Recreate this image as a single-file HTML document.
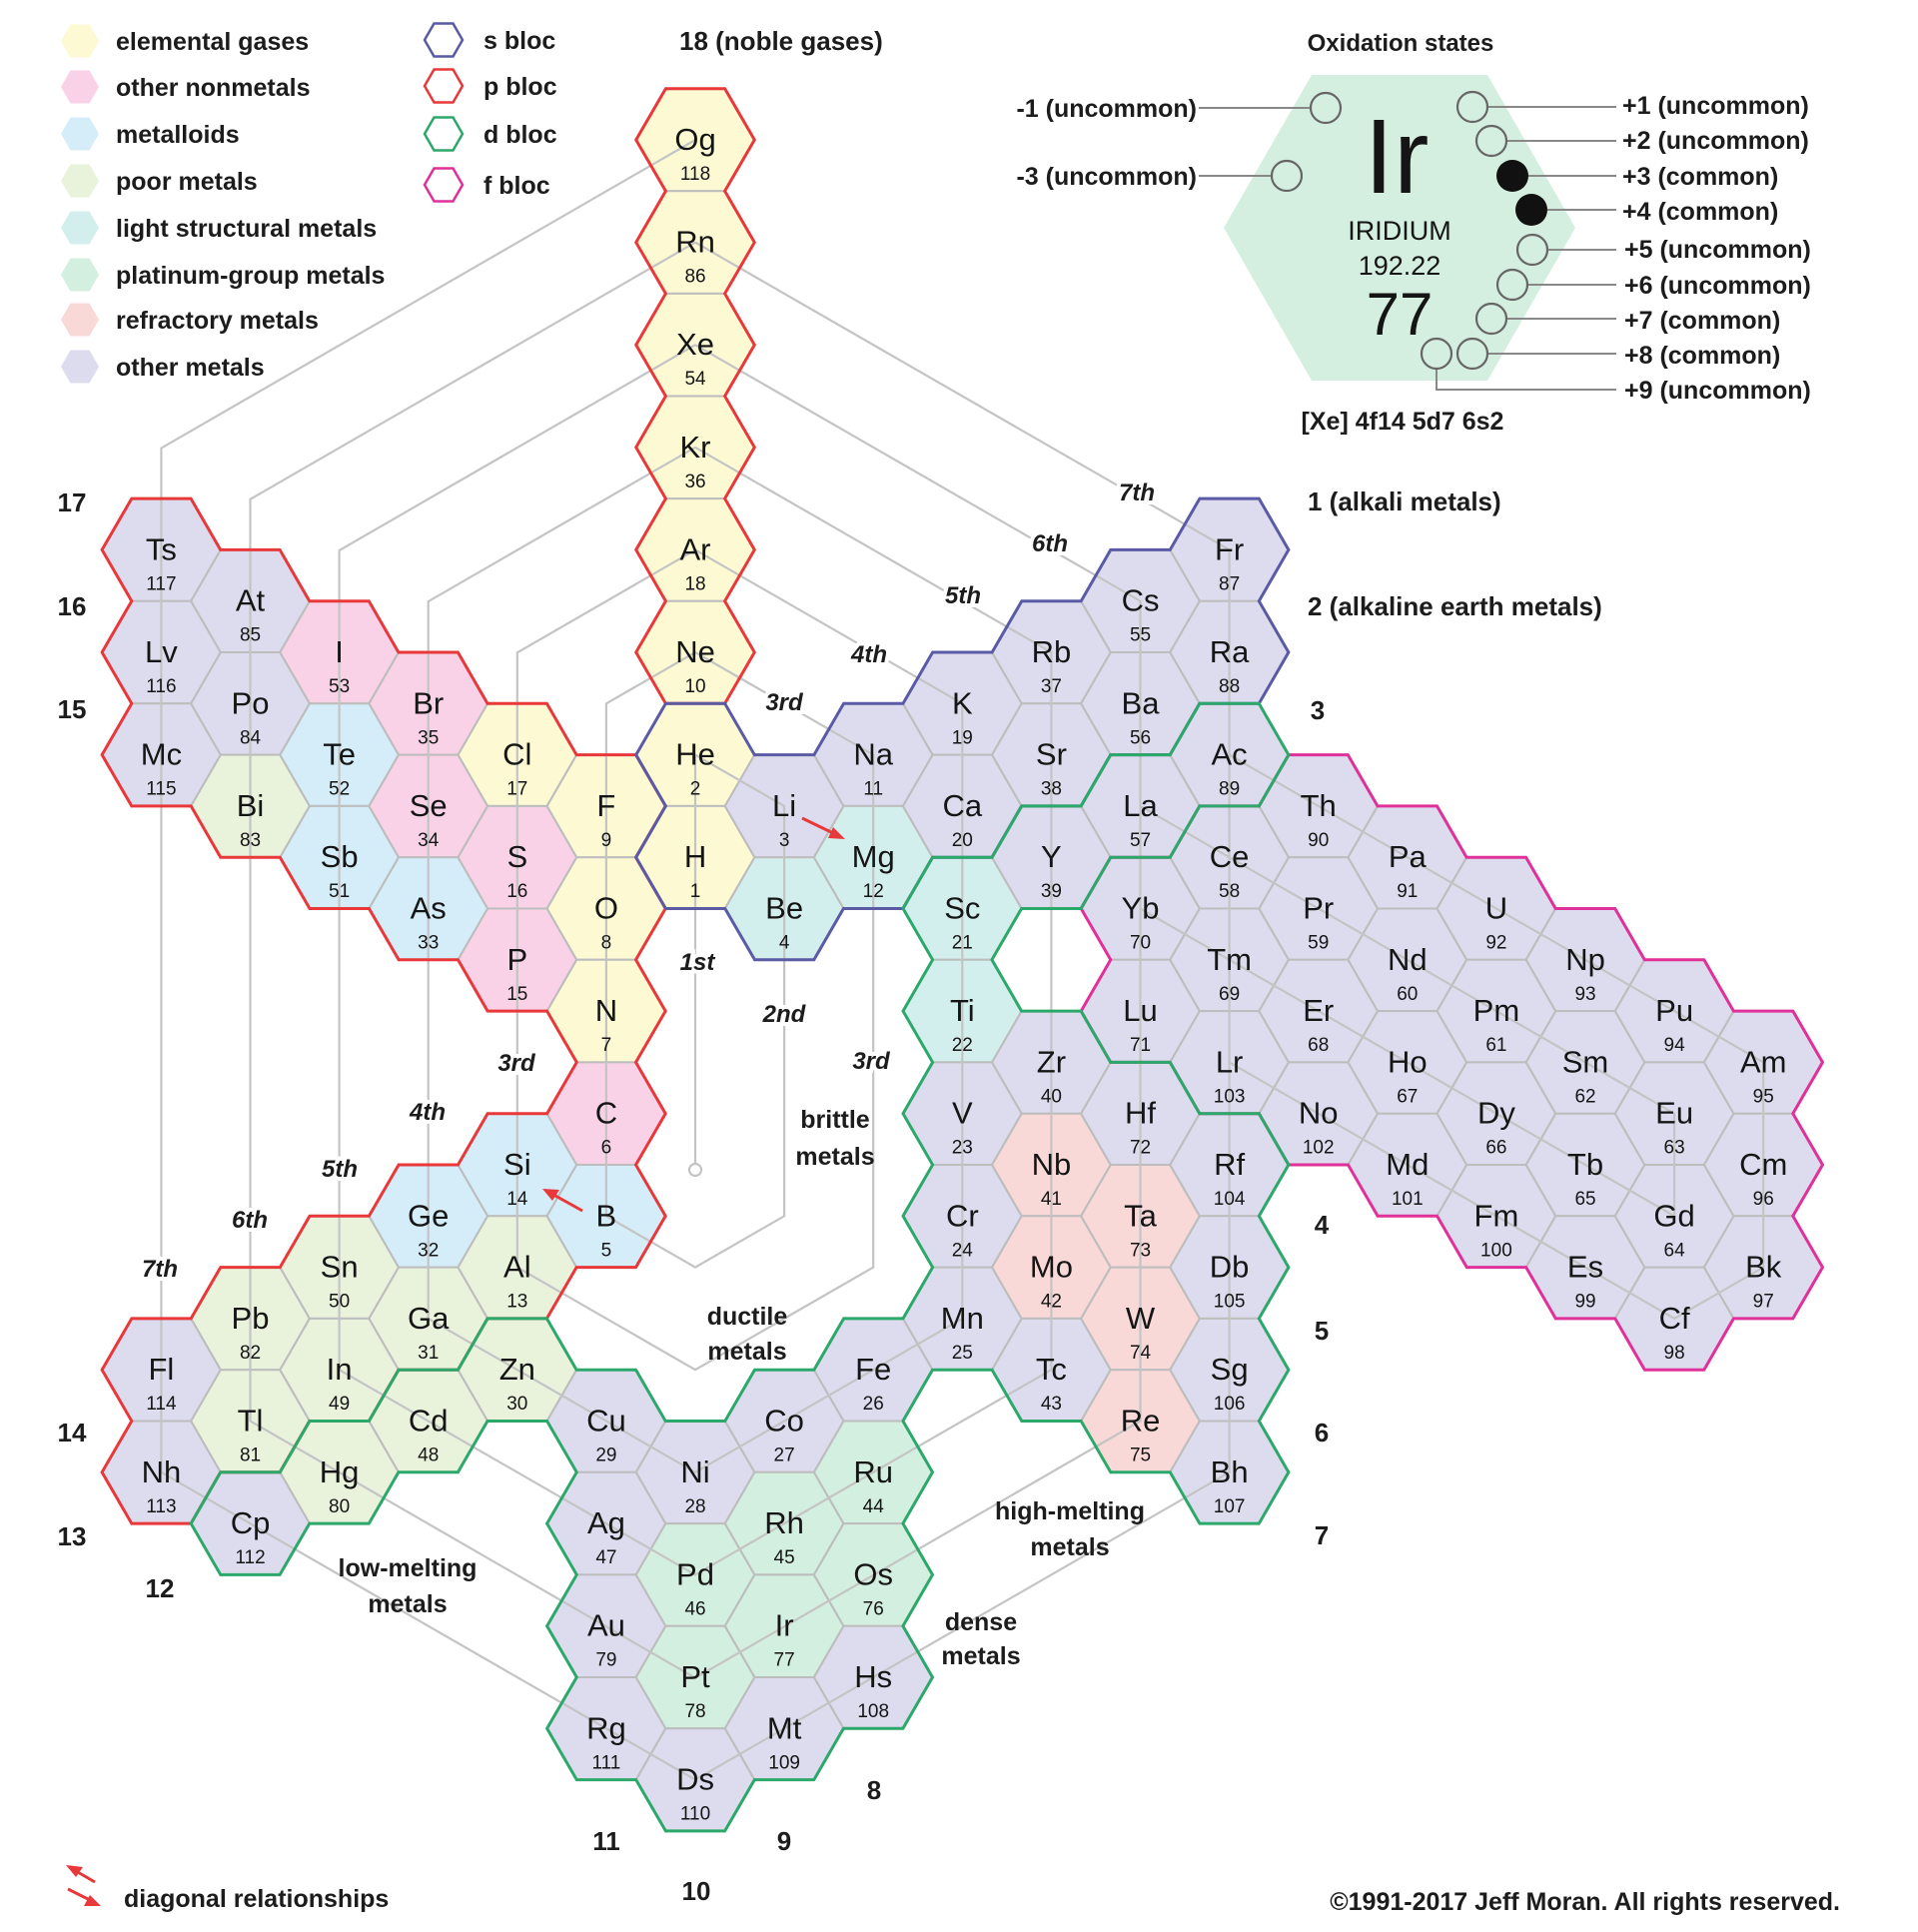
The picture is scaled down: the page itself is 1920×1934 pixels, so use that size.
<!DOCTYPE html>
<html><head><meta charset="utf-8"><style>
html,body{margin:0;padding:0;background:#fff;}
svg{display:block;font-family:"Liberation Sans",sans-serif;}
.g{fill:#fdf9d3}.on{fill:#f9d2e7}.ml{fill:#d4edf9}.pm{fill:#e9f3dc}.ls{fill:#d3efed}.pg{fill:#d3efdf}.rf{fill:#f8d9d8}.om{fill:#dddcee}
.cell use{stroke:#bdbdbd;stroke-width:2}
.el text{text-anchor:middle;fill:#151515}
.el .s{font-size:31px}
.el .n{font-size:19px}
.ln{fill:none;stroke:#c4c4c4;stroke-width:2.2}
.lab{font-size:25px;font-weight:bold;fill:#1c1c1c}
.per{font-size:24px;font-weight:bold;font-style:italic;fill:#1c1c1c;text-anchor:middle;stroke:#fff;stroke-width:8;paint-order:stroke}
.cat{font-size:25px;font-weight:bold;fill:#1c1c1c;text-anchor:middle}
.ox{font-size:25px;font-weight:bold;fill:#1c1c1c}
.oc{fill:none;stroke:#666;stroke-width:2.2}
.ol{stroke:#888;stroke-width:2;fill:none}
</style></head><body>
<svg id="sv" width="1920" height="1934" viewBox="0 0 1920 1934" xmlns="http://www.w3.org/2000/svg">
<defs>
<polygon id="h" points="59.3,0 29.65,51.3 -29.65,51.3 -59.3,0 -29.65,-51.3 29.65,-51.3"/>
<polygon id="sh" points="19,0 9.5,16.5 -9.5,16.5 -19,0 -9.5,-16.5 9.5,-16.5"/>
</defs>

<!-- legend -->
<g>
<use href="#sh" x="80" y="41" class="g"/><text class="lab" x="116" y="50">elemental gases</text>
<use href="#sh" x="80" y="87" class="on"/><text class="lab" x="116" y="96">other nonmetals</text>
<use href="#sh" x="80" y="134" class="ml"/><text class="lab" x="116" y="143">metalloids</text>
<use href="#sh" x="80" y="181" class="pm"/><text class="lab" x="116" y="190">poor metals</text>
<use href="#sh" x="80" y="228" class="ls"/><text class="lab" x="116" y="237">light structural metals</text>
<use href="#sh" x="80" y="275" class="pg"/><text class="lab" x="116" y="284">platinum-group metals</text>
<use href="#sh" x="80" y="320" class="rf"/><text class="lab" x="116" y="329">refractory metals</text>
<use href="#sh" x="80" y="367" class="om"/><text class="lab" x="116" y="376">other metals</text>
<use href="#sh" x="444" y="40" fill="#fff" stroke="#5a5aa5" stroke-width="2.5"/><text class="lab" x="484" y="49">s bloc</text>
<use href="#sh" x="444" y="86" fill="#fff" stroke="#e8383a" stroke-width="2.5"/><text class="lab" x="484" y="95">p bloc</text>
<use href="#sh" x="444" y="134" fill="#fff" stroke="#2ca86a" stroke-width="2.5"/><text class="lab" x="484" y="143">d bloc</text>
<use href="#sh" x="444" y="185" fill="#fff" stroke="#e0309a" stroke-width="2.5"/><text class="lab" x="484" y="194">f bloc</text>
<text class="lab" x="680" y="50" style="font-size:26px">18 (noble gases)</text>
</g>

<!-- oxidation legend -->
<g>
<text class="ox" x="1402" y="51" text-anchor="middle" style="font-size:24px">Oxidation states</text>
<polygon points="1577,228 1489,381 1313,381 1225,228 1313,75 1489,75" fill="#d4efe0"/>
<text x="1398" y="193" text-anchor="middle" style="font-size:106px;fill:#151515">Ir</text>
<text x="1401" y="240" text-anchor="middle" style="font-size:27px;fill:#151515">IRIDIUM</text>
<text x="1401" y="275" text-anchor="middle" style="font-size:27px;fill:#151515">192.22</text>
<text x="1401" y="335" text-anchor="middle" style="font-size:60px;fill:#151515">77</text>
<text class="ox" x="1404" y="430" text-anchor="middle">[Xe] 4f14 5d7 6s2</text>
<path class="ol" d="M1200 108H1312M1200 176H1273M1490 107H1618M1508 141H1618M1530 176H1618M1549 210H1618M1550 250H1618M1530 285H1618M1509 319H1618M1490 354H1618M1438 370V390H1618"/>
<circle class="oc" cx="1327" cy="108" r="15"/>
<circle class="oc" cx="1288" cy="176" r="15"/>
<circle class="oc" cx="1474" cy="107" r="15"/>
<circle class="oc" cx="1493" cy="141" r="15"/>
<circle cx="1514" cy="176" r="16" fill="#111"/>
<circle cx="1533" cy="210" r="16" fill="#111"/>
<circle class="oc" cx="1534" cy="250" r="15"/>
<circle class="oc" cx="1514" cy="285" r="15"/>
<circle class="oc" cx="1493" cy="319" r="15"/>
<circle class="oc" cx="1474" cy="354" r="15"/>
<circle class="oc" cx="1438" cy="354" r="15"/>
<text class="ox" x="1198" y="117" text-anchor="end">-1 (uncommon)</text>
<text class="ox" x="1198" y="185" text-anchor="end">-3 (uncommon)</text>
<text class="ox" x="1624" y="114">+1 (uncommon)</text>
<text class="ox" x="1624" y="149">+2 (uncommon)</text>
<text class="ox" x="1624" y="185">+3 (common)</text>
<text class="ox" x="1624" y="220">+4 (common)</text>
<text class="ox" x="1626" y="258">+5 (uncommon)</text>
<text class="ox" x="1626" y="294">+6 (uncommon)</text>
<text class="ox" x="1626" y="329">+7 (common)</text>
<text class="ox" x="1626" y="364">+8 (common)</text>
<text class="ox" x="1626" y="399">+9 (uncommon)</text>
</g>

<!-- cell fills -->
<g class="cell">
<use href="#h" x="696" y="140" class="g"/><use href="#h" x="696" y="242.6" class="g"/><use href="#h" x="696" y="345.2" class="g"/><use href="#h" x="696" y="447.8" class="g"/><use href="#h" x="696" y="550.4" class="g"/><use href="#h" x="696" y="653" class="g"/><use href="#h" x="696" y="755.6" class="g"/><use href="#h" x="696" y="858.2" class="g"/>
<use href="#h" x="696" y="1473.8" class="om"/><use href="#h" x="696" y="1576.4" class="pg"/><use href="#h" x="696" y="1679" class="pg"/><use href="#h" x="696" y="1781.6" class="om"/>
<use href="#h" x="785.1" y="806.9" class="om"/><use href="#h" x="785.1" y="909.5" class="ls"/><use href="#h" x="785.1" y="1422.5" class="om"/><use href="#h" x="785.1" y="1525.1" class="pg"/><use href="#h" x="785.1" y="1627.7" class="pg"/><use href="#h" x="785.1" y="1730.3" class="om"/>
<use href="#h" x="874.2" y="755.6" class="om"/><use href="#h" x="874.2" y="858.2" class="ls"/><use href="#h" x="874.2" y="1371.2" class="om"/><use href="#h" x="874.2" y="1473.8" class="pg"/><use href="#h" x="874.2" y="1576.4" class="pg"/><use href="#h" x="874.2" y="1679" class="om"/>
<use href="#h" x="963.3" y="704.3" class="om"/><use href="#h" x="963.3" y="806.9" class="om"/><use href="#h" x="963.3" y="909.5" class="ls"/><use href="#h" x="963.3" y="1012.1" class="ls"/><use href="#h" x="963.3" y="1114.7" class="om"/><use href="#h" x="963.3" y="1217.3" class="om"/><use href="#h" x="963.3" y="1319.9" class="om"/>
<use href="#h" x="1052.4" y="653" class="om"/><use href="#h" x="1052.4" y="755.6" class="om"/><use href="#h" x="1052.4" y="858.2" class="om"/><use href="#h" x="1052.4" y="1063.4" class="om"/><use href="#h" x="1052.4" y="1166" class="rf"/><use href="#h" x="1052.4" y="1268.6" class="rf"/><use href="#h" x="1052.4" y="1371.2" class="om"/>
<use href="#h" x="1141.5" y="601.7" class="om"/><use href="#h" x="1141.5" y="704.3" class="om"/><use href="#h" x="1141.5" y="806.9" class="om"/><use href="#h" x="1141.5" y="909.5" class="om"/><use href="#h" x="1141.5" y="1012.1" class="om"/><use href="#h" x="1141.5" y="1114.7" class="om"/><use href="#h" x="1141.5" y="1217.3" class="rf"/><use href="#h" x="1141.5" y="1319.9" class="rf"/><use href="#h" x="1141.5" y="1422.5" class="rf"/>
<use href="#h" x="1230.6" y="550.4" class="om"/><use href="#h" x="1230.6" y="653" class="om"/><use href="#h" x="1230.6" y="755.6" class="om"/><use href="#h" x="1230.6" y="858.2" class="om"/><use href="#h" x="1230.6" y="960.8" class="om"/><use href="#h" x="1230.6" y="1063.4" class="om"/><use href="#h" x="1230.6" y="1166" class="om"/><use href="#h" x="1230.6" y="1268.6" class="om"/><use href="#h" x="1230.6" y="1371.2" class="om"/><use href="#h" x="1230.6" y="1473.8" class="om"/>
<use href="#h" x="1319.7" y="806.9" class="om"/><use href="#h" x="1319.7" y="909.5" class="om"/><use href="#h" x="1319.7" y="1012.1" class="om"/><use href="#h" x="1319.7" y="1114.7" class="om"/>
<use href="#h" x="1408.8" y="858.2" class="om"/><use href="#h" x="1408.8" y="960.8" class="om"/><use href="#h" x="1408.8" y="1063.4" class="om"/><use href="#h" x="1408.8" y="1166" class="om"/>
<use href="#h" x="1497.9" y="909.5" class="om"/><use href="#h" x="1497.9" y="1012.1" class="om"/><use href="#h" x="1497.9" y="1114.7" class="om"/><use href="#h" x="1497.9" y="1217.3" class="om"/>
<use href="#h" x="1587" y="960.8" class="om"/><use href="#h" x="1587" y="1063.4" class="om"/><use href="#h" x="1587" y="1166" class="om"/><use href="#h" x="1587" y="1268.6" class="om"/>
<use href="#h" x="1676.1" y="1012.1" class="om"/><use href="#h" x="1676.1" y="1114.7" class="om"/><use href="#h" x="1676.1" y="1217.3" class="om"/><use href="#h" x="1676.1" y="1319.9" class="om"/>
<use href="#h" x="1765.2" y="1063.4" class="om"/><use href="#h" x="1765.2" y="1166" class="om"/><use href="#h" x="1765.2" y="1268.6" class="om"/>
<use href="#h" x="606.9" y="806.9" class="g"/><use href="#h" x="606.9" y="909.5" class="g"/><use href="#h" x="606.9" y="1012.1" class="g"/><use href="#h" x="606.9" y="1114.7" class="on"/><use href="#h" x="606.9" y="1217.3" class="ml"/><use href="#h" x="606.9" y="1422.5" class="om"/><use href="#h" x="606.9" y="1525.1" class="om"/><use href="#h" x="606.9" y="1627.7" class="om"/><use href="#h" x="606.9" y="1730.3" class="om"/>
<use href="#h" x="517.8" y="755.6" class="g"/><use href="#h" x="517.8" y="858.2" class="on"/><use href="#h" x="517.8" y="960.8" class="on"/><use href="#h" x="517.8" y="1166" class="ml"/><use href="#h" x="517.8" y="1268.6" class="pm"/><use href="#h" x="517.8" y="1371.2" class="pm"/>
<use href="#h" x="428.7" y="704.3" class="on"/><use href="#h" x="428.7" y="806.9" class="on"/><use href="#h" x="428.7" y="909.5" class="ml"/><use href="#h" x="428.7" y="1217.3" class="ml"/><use href="#h" x="428.7" y="1319.9" class="pm"/><use href="#h" x="428.7" y="1422.5" class="pm"/>
<use href="#h" x="339.6" y="653" class="on"/><use href="#h" x="339.6" y="755.6" class="ml"/><use href="#h" x="339.6" y="858.2" class="ml"/><use href="#h" x="339.6" y="1268.6" class="pm"/><use href="#h" x="339.6" y="1371.2" class="pm"/><use href="#h" x="339.6" y="1473.8" class="pm"/>
<use href="#h" x="250.5" y="601.7" class="om"/><use href="#h" x="250.5" y="704.3" class="om"/><use href="#h" x="250.5" y="806.9" class="pm"/><use href="#h" x="250.5" y="1319.9" class="pm"/><use href="#h" x="250.5" y="1422.5" class="pm"/><use href="#h" x="250.5" y="1525.1" class="om"/>
<use href="#h" x="161.4" y="550.4" class="om"/><use href="#h" x="161.4" y="653" class="om"/><use href="#h" x="161.4" y="755.6" class="om"/><use href="#h" x="161.4" y="1371.2" class="om"/><use href="#h" x="161.4" y="1473.8" class="om"/>
</g>

<!-- period lines -->
<g class="ln">
<polyline points="696,755.6 696,1165"/>
<circle cx="696" cy="1171" r="6"/>
<polyline points="696,653 606.9,704.3 606.9,1217.3 696,1268.6 785.1,1217.3 785.1,806.9 696,755.6"/>
<polyline points="696,550.4 517.8,653.3 517.8,1268.6 696,1371.2 874.2,1268.6 874.2,755.6 696,653"/>
<polyline points="696,447.8 428.7,602.1 428.7,1319.9 696,1473.8 963.3,1319.9 963.3,704.3 696,550.4"/>
<polyline points="696,345.2 339.6,551 339.6,1371.2 696,1576.4 1052.4,1371.2 1052.4,653 696,447.8"/>
<polyline points="696,242.6 250.5,499.8 250.5,1422.5 696,1679.7 1141.5,1422.5 1141.5,601.7 696,345.2"/>
<polyline points="1141.5,806.9 1676.1,1114.7 1676.1,1217.3 1141.5,909.5"/>
<polyline points="696,140 161.4,448.6 161.4,1473.8 696,1781.6 1230.6,1473.8 1230.6,550.4 696,242.6"/>
<polyline points="1230.6,755.6 1765.2,1063.4 1765.2,1268.6 1676.1,1319.9 1230.6,1063.4"/>
</g>

<!-- element text -->
<g class="el">
<g transform="translate(696 140)"><text class="s" y="10">Og</text><text class="n" y="40">118</text></g>
<g transform="translate(696 242.6)"><text class="s" y="10">Rn</text><text class="n" y="40">86</text></g>
<g transform="translate(696 345.2)"><text class="s" y="10">Xe</text><text class="n" y="40">54</text></g>
<g transform="translate(696 447.8)"><text class="s" y="10">Kr</text><text class="n" y="40">36</text></g>
<g transform="translate(696 550.4)"><text class="s" y="10">Ar</text><text class="n" y="40">18</text></g>
<g transform="translate(696 653)"><text class="s" y="10">Ne</text><text class="n" y="40">10</text></g>
<g transform="translate(696 755.6)"><text class="s" y="10">He</text><text class="n" y="40">2</text></g>
<g transform="translate(696 858.2)"><text class="s" y="10">H</text><text class="n" y="40">1</text></g>
<g transform="translate(696 1473.8)"><text class="s" y="10">Ni</text><text class="n" y="40">28</text></g>
<g transform="translate(696 1576.4)"><text class="s" y="10">Pd</text><text class="n" y="40">46</text></g>
<g transform="translate(696 1679)"><text class="s" y="10">Pt</text><text class="n" y="40">78</text></g>
<g transform="translate(696 1781.6)"><text class="s" y="10">Ds</text><text class="n" y="40">110</text></g>
<g transform="translate(785.1 806.9)"><text class="s" y="10">Li</text><text class="n" y="40">3</text></g>
<g transform="translate(785.1 909.5)"><text class="s" y="10">Be</text><text class="n" y="40">4</text></g>
<g transform="translate(785.1 1422.5)"><text class="s" y="10">Co</text><text class="n" y="40">27</text></g>
<g transform="translate(785.1 1525.1)"><text class="s" y="10">Rh</text><text class="n" y="40">45</text></g>
<g transform="translate(785.1 1627.7)"><text class="s" y="10">Ir</text><text class="n" y="40">77</text></g>
<g transform="translate(785.1 1730.3)"><text class="s" y="10">Mt</text><text class="n" y="40">109</text></g>
<g transform="translate(874.2 755.6)"><text class="s" y="10">Na</text><text class="n" y="40">11</text></g>
<g transform="translate(874.2 858.2)"><text class="s" y="10">Mg</text><text class="n" y="40">12</text></g>
<g transform="translate(874.2 1371.2)"><text class="s" y="10">Fe</text><text class="n" y="40">26</text></g>
<g transform="translate(874.2 1473.8)"><text class="s" y="10">Ru</text><text class="n" y="40">44</text></g>
<g transform="translate(874.2 1576.4)"><text class="s" y="10">Os</text><text class="n" y="40">76</text></g>
<g transform="translate(874.2 1679)"><text class="s" y="10">Hs</text><text class="n" y="40">108</text></g>
<g transform="translate(963.3 704.3)"><text class="s" y="10">K</text><text class="n" y="40">19</text></g>
<g transform="translate(963.3 806.9)"><text class="s" y="10">Ca</text><text class="n" y="40">20</text></g>
<g transform="translate(963.3 909.5)"><text class="s" y="10">Sc</text><text class="n" y="40">21</text></g>
<g transform="translate(963.3 1012.1)"><text class="s" y="10">Ti</text><text class="n" y="40">22</text></g>
<g transform="translate(963.3 1114.7)"><text class="s" y="10">V</text><text class="n" y="40">23</text></g>
<g transform="translate(963.3 1217.3)"><text class="s" y="10">Cr</text><text class="n" y="40">24</text></g>
<g transform="translate(963.3 1319.9)"><text class="s" y="10">Mn</text><text class="n" y="40">25</text></g>
<g transform="translate(1052.4 653)"><text class="s" y="10">Rb</text><text class="n" y="40">37</text></g>
<g transform="translate(1052.4 755.6)"><text class="s" y="10">Sr</text><text class="n" y="40">38</text></g>
<g transform="translate(1052.4 858.2)"><text class="s" y="10">Y</text><text class="n" y="40">39</text></g>
<g transform="translate(1052.4 1063.4)"><text class="s" y="10">Zr</text><text class="n" y="40">40</text></g>
<g transform="translate(1052.4 1166)"><text class="s" y="10">Nb</text><text class="n" y="40">41</text></g>
<g transform="translate(1052.4 1268.6)"><text class="s" y="10">Mo</text><text class="n" y="40">42</text></g>
<g transform="translate(1052.4 1371.2)"><text class="s" y="10">Tc</text><text class="n" y="40">43</text></g>
<g transform="translate(1141.5 601.7)"><text class="s" y="10">Cs</text><text class="n" y="40">55</text></g>
<g transform="translate(1141.5 704.3)"><text class="s" y="10">Ba</text><text class="n" y="40">56</text></g>
<g transform="translate(1141.5 806.9)"><text class="s" y="10">La</text><text class="n" y="40">57</text></g>
<g transform="translate(1141.5 909.5)"><text class="s" y="10">Yb</text><text class="n" y="40">70</text></g>
<g transform="translate(1141.5 1012.1)"><text class="s" y="10">Lu</text><text class="n" y="40">71</text></g>
<g transform="translate(1141.5 1114.7)"><text class="s" y="10">Hf</text><text class="n" y="40">72</text></g>
<g transform="translate(1141.5 1217.3)"><text class="s" y="10">Ta</text><text class="n" y="40">73</text></g>
<g transform="translate(1141.5 1319.9)"><text class="s" y="10">W</text><text class="n" y="40">74</text></g>
<g transform="translate(1141.5 1422.5)"><text class="s" y="10">Re</text><text class="n" y="40">75</text></g>
<g transform="translate(1230.6 550.4)"><text class="s" y="10">Fr</text><text class="n" y="40">87</text></g>
<g transform="translate(1230.6 653)"><text class="s" y="10">Ra</text><text class="n" y="40">88</text></g>
<g transform="translate(1230.6 755.6)"><text class="s" y="10">Ac</text><text class="n" y="40">89</text></g>
<g transform="translate(1230.6 858.2)"><text class="s" y="10">Ce</text><text class="n" y="40">58</text></g>
<g transform="translate(1230.6 960.8)"><text class="s" y="10">Tm</text><text class="n" y="40">69</text></g>
<g transform="translate(1230.6 1063.4)"><text class="s" y="10">Lr</text><text class="n" y="40">103</text></g>
<g transform="translate(1230.6 1166)"><text class="s" y="10">Rf</text><text class="n" y="40">104</text></g>
<g transform="translate(1230.6 1268.6)"><text class="s" y="10">Db</text><text class="n" y="40">105</text></g>
<g transform="translate(1230.6 1371.2)"><text class="s" y="10">Sg</text><text class="n" y="40">106</text></g>
<g transform="translate(1230.6 1473.8)"><text class="s" y="10">Bh</text><text class="n" y="40">107</text></g>
<g transform="translate(1319.7 806.9)"><text class="s" y="10">Th</text><text class="n" y="40">90</text></g>
<g transform="translate(1319.7 909.5)"><text class="s" y="10">Pr</text><text class="n" y="40">59</text></g>
<g transform="translate(1319.7 1012.1)"><text class="s" y="10">Er</text><text class="n" y="40">68</text></g>
<g transform="translate(1319.7 1114.7)"><text class="s" y="10">No</text><text class="n" y="40">102</text></g>
<g transform="translate(1408.8 858.2)"><text class="s" y="10">Pa</text><text class="n" y="40">91</text></g>
<g transform="translate(1408.8 960.8)"><text class="s" y="10">Nd</text><text class="n" y="40">60</text></g>
<g transform="translate(1408.8 1063.4)"><text class="s" y="10">Ho</text><text class="n" y="40">67</text></g>
<g transform="translate(1408.8 1166)"><text class="s" y="10">Md</text><text class="n" y="40">101</text></g>
<g transform="translate(1497.9 909.5)"><text class="s" y="10">U</text><text class="n" y="40">92</text></g>
<g transform="translate(1497.9 1012.1)"><text class="s" y="10">Pm</text><text class="n" y="40">61</text></g>
<g transform="translate(1497.9 1114.7)"><text class="s" y="10">Dy</text><text class="n" y="40">66</text></g>
<g transform="translate(1497.9 1217.3)"><text class="s" y="10">Fm</text><text class="n" y="40">100</text></g>
<g transform="translate(1587 960.8)"><text class="s" y="10">Np</text><text class="n" y="40">93</text></g>
<g transform="translate(1587 1063.4)"><text class="s" y="10">Sm</text><text class="n" y="40">62</text></g>
<g transform="translate(1587 1166)"><text class="s" y="10">Tb</text><text class="n" y="40">65</text></g>
<g transform="translate(1587 1268.6)"><text class="s" y="10">Es</text><text class="n" y="40">99</text></g>
<g transform="translate(1676.1 1012.1)"><text class="s" y="10">Pu</text><text class="n" y="40">94</text></g>
<g transform="translate(1676.1 1114.7)"><text class="s" y="10">Eu</text><text class="n" y="40">63</text></g>
<g transform="translate(1676.1 1217.3)"><text class="s" y="10">Gd</text><text class="n" y="40">64</text></g>
<g transform="translate(1676.1 1319.9)"><text class="s" y="10">Cf</text><text class="n" y="40">98</text></g>
<g transform="translate(1765.2 1063.4)"><text class="s" y="10">Am</text><text class="n" y="40">95</text></g>
<g transform="translate(1765.2 1166)"><text class="s" y="10">Cm</text><text class="n" y="40">96</text></g>
<g transform="translate(1765.2 1268.6)"><text class="s" y="10">Bk</text><text class="n" y="40">97</text></g>
<g transform="translate(606.9 806.9)"><text class="s" y="10">F</text><text class="n" y="40">9</text></g>
<g transform="translate(606.9 909.5)"><text class="s" y="10">O</text><text class="n" y="40">8</text></g>
<g transform="translate(606.9 1012.1)"><text class="s" y="10">N</text><text class="n" y="40">7</text></g>
<g transform="translate(606.9 1114.7)"><text class="s" y="10">C</text><text class="n" y="40">6</text></g>
<g transform="translate(606.9 1217.3)"><text class="s" y="10">B</text><text class="n" y="40">5</text></g>
<g transform="translate(606.9 1422.5)"><text class="s" y="10">Cu</text><text class="n" y="40">29</text></g>
<g transform="translate(606.9 1525.1)"><text class="s" y="10">Ag</text><text class="n" y="40">47</text></g>
<g transform="translate(606.9 1627.7)"><text class="s" y="10">Au</text><text class="n" y="40">79</text></g>
<g transform="translate(606.9 1730.3)"><text class="s" y="10">Rg</text><text class="n" y="40">111</text></g>
<g transform="translate(517.8 755.6)"><text class="s" y="10">Cl</text><text class="n" y="40">17</text></g>
<g transform="translate(517.8 858.2)"><text class="s" y="10">S</text><text class="n" y="40">16</text></g>
<g transform="translate(517.8 960.8)"><text class="s" y="10">P</text><text class="n" y="40">15</text></g>
<g transform="translate(517.8 1166)"><text class="s" y="10">Si</text><text class="n" y="40">14</text></g>
<g transform="translate(517.8 1268.6)"><text class="s" y="10">Al</text><text class="n" y="40">13</text></g>
<g transform="translate(517.8 1371.2)"><text class="s" y="10">Zn</text><text class="n" y="40">30</text></g>
<g transform="translate(428.7 704.3)"><text class="s" y="10">Br</text><text class="n" y="40">35</text></g>
<g transform="translate(428.7 806.9)"><text class="s" y="10">Se</text><text class="n" y="40">34</text></g>
<g transform="translate(428.7 909.5)"><text class="s" y="10">As</text><text class="n" y="40">33</text></g>
<g transform="translate(428.7 1217.3)"><text class="s" y="10">Ge</text><text class="n" y="40">32</text></g>
<g transform="translate(428.7 1319.9)"><text class="s" y="10">Ga</text><text class="n" y="40">31</text></g>
<g transform="translate(428.7 1422.5)"><text class="s" y="10">Cd</text><text class="n" y="40">48</text></g>
<g transform="translate(339.6 653)"><text class="s" y="10">I</text><text class="n" y="40">53</text></g>
<g transform="translate(339.6 755.6)"><text class="s" y="10">Te</text><text class="n" y="40">52</text></g>
<g transform="translate(339.6 858.2)"><text class="s" y="10">Sb</text><text class="n" y="40">51</text></g>
<g transform="translate(339.6 1268.6)"><text class="s" y="10">Sn</text><text class="n" y="40">50</text></g>
<g transform="translate(339.6 1371.2)"><text class="s" y="10">In</text><text class="n" y="40">49</text></g>
<g transform="translate(339.6 1473.8)"><text class="s" y="10">Hg</text><text class="n" y="40">80</text></g>
<g transform="translate(250.5 601.7)"><text class="s" y="10">At</text><text class="n" y="40">85</text></g>
<g transform="translate(250.5 704.3)"><text class="s" y="10">Po</text><text class="n" y="40">84</text></g>
<g transform="translate(250.5 806.9)"><text class="s" y="10">Bi</text><text class="n" y="40">83</text></g>
<g transform="translate(250.5 1319.9)"><text class="s" y="10">Pb</text><text class="n" y="40">82</text></g>
<g transform="translate(250.5 1422.5)"><text class="s" y="10">Tl</text><text class="n" y="40">81</text></g>
<g transform="translate(250.5 1525.1)"><text class="s" y="10">Cp</text><text class="n" y="40">112</text></g>
<g transform="translate(161.4 550.4)"><text class="s" y="10">Ts</text><text class="n" y="40">117</text></g>
<g transform="translate(161.4 653)"><text class="s" y="10">Lv</text><text class="n" y="40">116</text></g>
<g transform="translate(161.4 755.6)"><text class="s" y="10">Mc</text><text class="n" y="40">115</text></g>
<g transform="translate(161.4 1371.2)"><text class="s" y="10">Fl</text><text class="n" y="40">114</text></g>
<g transform="translate(161.4 1473.8)"><text class="s" y="10">Nh</text><text class="n" y="40">113</text></g>
</g>

<!-- period labels -->
<g>
<text class="per" x="698" y="971">1st</text>
<text class="per" x="785" y="1023">2nd</text>
<text class="per" x="872" y="1070">3rd</text>
<text class="per" x="517" y="1072">3rd</text>
<text class="per" x="428" y="1121">4th</text>
<text class="per" x="340" y="1178">5th</text>
<text class="per" x="250" y="1229">6th</text>
<text class="per" x="160" y="1278">7th</text>
<text class="per" x="785" y="711">3rd</text>
<text class="per" x="870" y="663">4th</text>
<text class="per" x="964" y="604">5th</text>
<text class="per" x="1051" y="552">6th</text>
<text class="per" x="1138" y="501">7th</text>
</g>

<!-- group labels -->
<g class="lab" style="font-size:26px">
<text x="72" y="512" text-anchor="middle">17</text>
<text x="72" y="616" text-anchor="middle">16</text>
<text x="72" y="719" text-anchor="middle">15</text>
<text x="72" y="1443" text-anchor="middle">14</text>
<text x="72" y="1547" text-anchor="middle">13</text>
<text x="160" y="1599" text-anchor="middle">12</text>
<text x="607" y="1852" text-anchor="middle">11</text>
<text x="697" y="1902" text-anchor="middle">10</text>
<text x="785" y="1852" text-anchor="middle">9</text>
<text x="875" y="1801" text-anchor="middle">8</text>
<text x="1323" y="1546" text-anchor="middle">7</text>
<text x="1323" y="1443" text-anchor="middle">6</text>
<text x="1323" y="1341" text-anchor="middle">5</text>
<text x="1323" y="1235" text-anchor="middle">4</text>
<text x="1319" y="720" text-anchor="middle">3</text>
<text x="1309" y="511">1 (alkali metals)</text>
<text x="1309" y="616">2 (alkaline earth metals)</text>
</g>

<!-- category labels -->
<g class="cat">
<text x="836" y="1129">brittle</text><text x="836" y="1166">metals</text>
<text x="748" y="1326">ductile</text><text x="748" y="1361">metals</text>
<text x="408" y="1578">low-melting</text><text x="408" y="1614">metals</text>
<text x="1071" y="1521">high-melting</text><text x="1071" y="1557">metals</text>
<text x="982" y="1632">dense</text><text x="982" y="1666">metals</text>
</g>

<!-- red arrows -->
<g stroke="#e8383a" stroke-width="3" fill="#e8383a">
<line x1="803" y1="819" x2="834" y2="834"/><polygon points="846,840 829,839 834,828" stroke="none"/>
<line x1="583" y1="1212" x2="556" y2="1197"/><polygon points="543,1190 560,1191 553,1202" stroke="none"/>
<line x1="95" y1="1884" x2="76" y2="1873"/><polygon points="66,1867 83,1869 76,1879" stroke="none"/>
<line x1="68" y1="1891" x2="90" y2="1902"/><polygon points="101,1908 84,1908 90,1897" stroke="none"/>
</g>
<text class="lab" x="124" y="1909">diagonal relationships</text>
<text class="lab" x="1842" y="1912" text-anchor="end">©1991-2017 Jeff Moran. All rights reserved.</text>

<g id="edges" fill="none" stroke-width="3" stroke-linecap="round"></g>
</svg>
<script>
(function(){
var S=59.3,H=51.3;
var B={
p:[[0,0],[0,1],[0,2],[0,3],[0,4],[0,5],[-1,6],[-1,7],[-1,8],[-1,9],[-1,10],[-2,6],[-2,7],[-2,8],[-2,10],[-2,11],[-3,5],[-3,6],[-3,7],[-3,10],[-3,11],[-4,5],[-4,6],[-4,7],[-4,11],[-4,12],[-5,4],[-5,5],[-5,6],[-5,11],[-5,12],[-6,4],[-6,5],[-6,6],[-6,12],[-6,13]],
f:[[5,7],[5,8],[6,7],[6,8],[6,9],[7,6],[7,7],[7,8],[7,9],[8,7],[8,8],[8,9],[8,10],[9,7],[9,8],[9,9],[9,10],[10,8],[10,9],[10,10],[10,11],[11,8],[11,9],[11,10],[11,11],[12,9],[12,10],[12,11]],
s:[[0,6],[0,7],[1,6],[1,7],[2,6],[2,7],[3,5],[3,6],[4,5],[4,6],[5,4],[5,5],[6,4],[6,5]],
d:[[3,7],[3,8],[3,9],[3,10],[3,11],[4,7],[4,9],[4,10],[4,11],[4,12],[5,6],[5,9],[5,10],[5,11],[5,12],[6,6],[6,10],[6,11],[6,12],[6,13],[-2,12],[-3,12],[-4,13],[-5,13],[-1,12],[-1,13],[-1,14],[-1,15],[0,13],[0,14],[0,15],[0,16],[1,12],[1,13],[1,14],[1,15],[2,12],[2,13],[2,14],[2,15]]
};
var col={p:"#e8383a",f:"#e0309a",s:"#5a5aa5",d:"#2ca86a"};
var m={};
for(var k in B)B[k].forEach(function(a){m[a[0]+","+a[1]]=k;});
var g=document.getElementById("edges"),ns="http://www.w3.org/2000/svg";
var V=[[S,0],[S/2,H],[-S/2,H],[-S,0],[-S/2,-H],[S/2,-H]];
["p","f","s","d"].forEach(function(k){
 var d="";
 B[k].forEach(function(a){
  var c=a[0],r=a[1],odd=Math.abs(c)%2===1;
  var x=696+89.1*c,y=140+102.6*r+(odd?51.3:0);
  var nb=odd?[[c+1,r+1],[c,r+1],[c-1,r+1],[c-1,r],[c,r-1],[c+1,r]]:[[c+1,r],[c,r+1],[c-1,r],[c-1,r-1],[c,r-1],[c+1,r-1]];
  for(var i=0;i<6;i++){
   if(m[nb[i][0]+","+nb[i][1]]!==k){
    var p=V[i],q=V[(i+1)%6];
    d+="M"+(x+p[0]).toFixed(1)+" "+(y+p[1]).toFixed(1)+"L"+(x+q[0]).toFixed(1)+" "+(y+q[1]).toFixed(1);
   }
  }
 });
 var pa=document.createElementNS(ns,"path");pa.setAttribute("d",d);pa.setAttribute("stroke",col[k]);g.appendChild(pa);
});
})();
</script>
</body></html>
